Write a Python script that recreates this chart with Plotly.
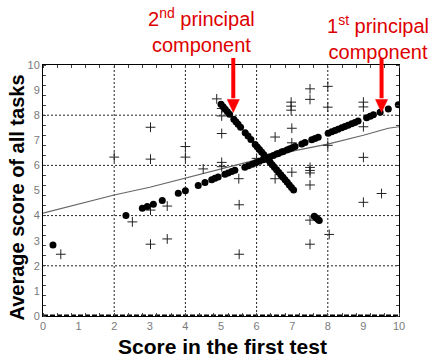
import plotly.graph_objects as go

# Individual scores (crosses)
cross_x = [0.5, 2.0, 2.51, 3.02, 3.02, 3.02, 3.02, 3.49, 3.49, 4.0, 4.0, 4.5,
           4.88, 5.02, 5.02, 5.02, 5.02, 5.02, 5.5, 5.51, 5.51, 6.0, 6.52, 6.52,
           6.97, 6.97, 6.97, 6.99, 6.99, 6.99, 7.5, 7.5, 7.5, 7.5, 7.5, 7.5,
           7.5, 7.5, 8.0, 8.0, 8.0, 8.04, 9.0, 9.0, 9.0, 9.0, 9.0, 9.51]
cross_y = [2.46, 6.33, 3.75, 7.52, 6.25, 4.22, 2.86, 4.38, 3.07, 6.75, 6.33, 5.86,
           8.65, 8.27, 7.97, 7.27, 6.12, 5.95, 5.47, 4.43, 2.46, 6.28, 7.13, 5.47,
           8.52, 8.36, 8.2, 7.48, 6.9, 5.73, 9.05, 8.63, 5.92, 5.8, 5.7, 5.22,
           3.82, 2.86, 9.15, 8.32, 6.8, 3.25, 8.52, 8.33, 7.54, 6.32, 4.53, 4.88]

# Projections onto the first principal component
pc1_x = [0.28, 2.33, 2.79, 2.93, 3.10, 3.35, 3.80, 4.00, 4.36, 4.55, 4.74, 4.83,
         4.92, 5.11, 5.20, 5.30, 5.39, 5.67, 5.77, 5.88, 5.98, 6.08, 6.18, 6.28,
         6.38, 6.47, 6.56, 6.61, 6.70, 6.75, 6.85, 6.92, 6.99, 7.08, 7.27, 7.36,
         7.55, 7.64, 7.73, 8.01, 8.11, 8.20, 8.29, 8.39, 8.48, 8.57, 8.67, 8.76,
         8.85, 9.09, 9.19, 9.28, 9.47, 9.70, 9.98]
pc1_y = [2.83, 4.00, 4.29, 4.36, 4.45, 4.60, 4.89, 4.99, 5.20, 5.32, 5.43, 5.49,
         5.54, 5.65, 5.70, 5.76, 5.81, 5.93, 5.99, 6.05, 6.11, 6.17, 6.23, 6.28,
         6.34, 6.39, 6.45, 6.47, 6.53, 6.55, 6.61, 6.65, 6.69, 6.75, 6.85, 6.91,
         7.02, 7.07, 7.12, 7.28, 7.34, 7.39, 7.44, 7.50, 7.55, 7.60, 7.66, 7.71,
         7.77, 7.90, 7.96, 8.02, 8.12, 8.25, 8.42]

# Projections onto the second principal component
pc2_x = [5.00, 5.06, 5.12, 5.18, 5.24, 5.36, 5.42, 5.48, 5.55, 5.68, 5.76, 5.84,
         5.96, 6.02, 6.08, 6.14, 6.20, 6.26, 6.32, 6.38, 6.44, 6.50, 6.56, 6.62,
         6.68, 6.74, 6.80, 6.86, 6.92, 6.98, 7.04]
pc2_y = [8.44, 8.34, 8.24, 8.14, 8.04, 7.84, 7.74, 7.64, 7.52, 7.30, 7.17, 7.03,
         6.83, 6.73, 6.63, 6.53, 6.43, 6.33, 6.23, 6.13, 6.03, 5.93, 5.83, 5.73,
         5.63, 5.53, 5.43, 5.33, 5.22, 5.12, 5.02]

# Small cluster off the component lines
extra_x = [7.62, 7.67, 7.72, 7.76]
extra_y = [3.97, 3.91, 3.85, 3.80]

# Fitted trend line
trend_x = [0, 1, 2, 3, 4, 5, 5.8, 6.4, 7, 8, 9, 9.7, 10]
trend_y = [4.1, 4.46, 4.82, 5.13, 5.5, 5.85, 6.15, 6.4, 6.58, 6.85, 7.2, 7.48, 7.54]

# Points on the component lines that the red arrows indicate
arrow_x = [5.345, 9.51]

tick_vals = list(range(0, 11))
grid_vals = [2, 4, 6, 8]

fig = go.Figure()

fig.add_trace(go.Scatter(x=[0, 10], y=[0, 0], mode="lines", cliponaxis=False,
                         line=dict(color="black", width=3, dash="5px,2px"),
                         hoverinfo="skip"))
fig.add_trace(go.Scatter(x=trend_x, y=trend_y, mode="lines",
                         line=dict(color="#666666", width=1.2)))
fig.add_trace(go.Scatter(x=cross_x, y=cross_y, mode="markers",
                         marker=dict(symbol="cross-thin", size=7,
                                     line=dict(color="#222222", width=1))))
dot_style = dict(symbol="circle", size=7, color="black")
fig.add_trace(go.Scatter(x=pc1_x, y=pc1_y, mode="markers", marker=dot_style))
fig.add_trace(go.Scatter(x=pc2_x, y=pc2_y, mode="markers", marker=dot_style))
fig.add_trace(go.Scatter(x=extra_x, y=extra_y, mode="markers", marker=dot_style))

grid_line = dict(color="#222222", width=1, dash="2px,2px")
for g in grid_vals:
    fig.add_shape(type="line", xref="x", yref="paper", x0=g, x1=g, y0=0, y1=1,
                  line=grid_line, layer="below")
    fig.add_shape(type="line", xref="paper", yref="y", x0=0, x1=1, y0=g, y1=g,
                  line=grid_line, layer="below")

# Red arrows: shaft from above the plot down to a triangular head
arrow_red = "#ff0000"
tail_y, base_y, tip_y = 1.028, 0.8625, 0.8108
half_w = 0.17
for ax_x in arrow_x:
    fig.add_shape(type="line", xref="x", yref="paper", x0=ax_x, x1=ax_x,
                  y0=tail_y, y1=base_y + 0.005, line=dict(color=arrow_red, width=4),
                  layer="above")
    fig.add_shape(type="path", xref="x", yref="paper",
                  path=f"M{ax_x - half_w},{base_y} L{ax_x + half_w},{base_y} L{ax_x},{tip_y} Z",
                  fillcolor=arrow_red, line=dict(color=arrow_red, width=0.5),
                  layer="above")

tick_font = dict(family="Liberation Sans Narrow, Arial Narrow, Liberation Sans, sans-serif",
                 size=11, color="#7a7a7a")
axis_common = dict(range=[0, 10], tickmode="array", tickvals=tick_vals,
                   ticktext=[str(v) for v in tick_vals], ticks="", showgrid=False,
                   zeroline=False, showline=True, linecolor="black", linewidth=1,
                   mirror="ticks", tickfont=tick_font,
                   minor=dict(dtick=0.4, tick0=0, ticks="inside", ticklen=3,
                              tickcolor="#444444", showgrid=False))
fig.update_xaxes(**axis_common)
fig.update_yaxes(**axis_common)

red_text = "#dd0000"
label_font = dict(family="Liberation Sans, Arial, sans-serif", size=20, color=red_text)

annotations = [
    dict(text="<b>Score in the first test</b>", xref="paper", yref="paper",
         x=0.504, y=-0.1235, xanchor="center", yanchor="middle", showarrow=False,
         font=dict(family="Liberation Sans, Arial, sans-serif", size=21, color="black")),
    dict(text="<b>Average score of all tasks</b>", xref="paper", yref="paper",
         x=-0.073, y=0.472, xanchor="center", yanchor="middle", textangle=-90,
         showarrow=False,
         font=dict(family="Liberation Sans, Arial, sans-serif", size=20, color="black")),
    dict(text="2<sup>nd</sup> principal<br>component", xref="paper", yref="paper",
         x=0.4466, y=1.1375, xanchor="center", yanchor="middle", showarrow=False,
         font=label_font),
    dict(text="1<sup>st</sup> principal<br>component", xref="paper", yref="paper",
         x=0.941, y=1.1096, xanchor="center", yanchor="middle", showarrow=False,
         font=label_font),
]

fig.update_layout(
    width=435, height=359,
    margin=dict(l=43, r=36, t=65, b=43),
    paper_bgcolor="white", plot_bgcolor="white",
    showlegend=False,
    annotations=annotations,
)

fig.write_html("out.html")
